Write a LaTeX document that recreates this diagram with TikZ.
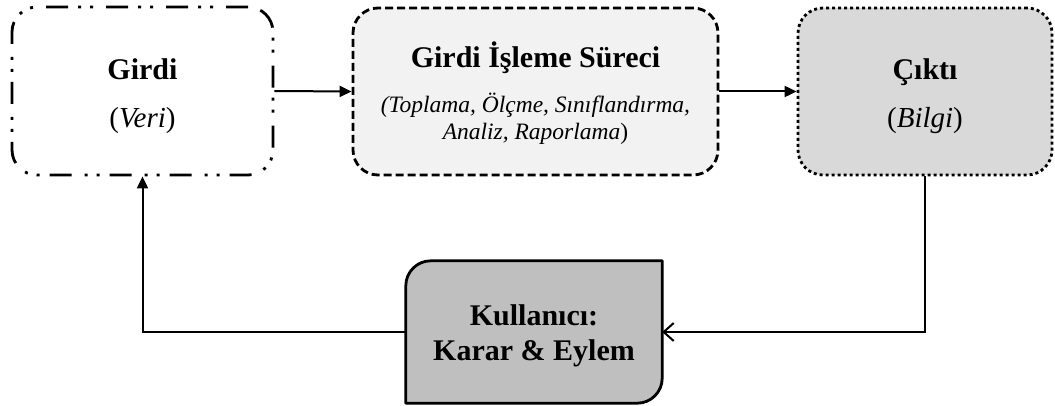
\documentclass[tikz,border=0pt]{standalone}
\usepackage{fontspec}
\setmainfont{Liberation Serif}
\usetikzlibrary{arrows.meta,backgrounds}
\definecolor{procfill}{HTML}{F2F2F2}
\definecolor{outfill}{HTML}{D9D9D9}
\definecolor{userfill}{HTML}{BFBFBF}
\tikzset{
  box/.style={draw, rounded corners=25pt, inner sep=0pt, align=center, line width=2.8pt},
  inbox/.style={box, fill=white, dash pattern=on 22pt off 13pt on 3pt off 9pt on 3pt off 10pt},
  procbox/.style={box, fill=procfill, dash pattern=on 8pt off 4pt},
  outbox/.style={box, fill=outfill, dash pattern=on 3pt off 3pt},
  userbox/.style={inner sep=0pt, align=center, font=\fontsize{30}{35}\selectfont\bfseries},
  link/.style={line width=2pt, -{Triangle[length=12pt,width=11pt]}},
  openlink/.style={line width=2pt, -{Straight Barb[length=10pt,width=18pt,line width=2pt]}},
  bigfont/.style={font=\fontsize{29}{48}\selectfont},
  titlefont/.style={font=\fontsize{30}{48}\selectfont\bfseries},
}
\newcommand{\boxtitle}[1]{{\fontsize{30}{48}\selectfont\bfseries #1}}
\begin{document}
\begin{tikzpicture}[x=1pt,y=1pt]
  \useasboundingbox (0,0) rectangle (1055,405);

  % input box
  \node[inbox, bigfont, minimum width=261pt, minimum height=168pt,
        text height=80pt, text depth=6pt] (girdi) at (142.5,314)
    {\boxtitle{Girdi}\\(\textit{Veri})};

  % processing box
  \node[procbox, minimum width=365pt, minimum height=167pt,
        font=\fontsize{23.5}{28}\selectfont,
        text height=102pt, text depth=5pt] (surec) at (535.5,313.5)
    {{\fontsize{30}{28}\selectfont\bfseries Girdi İşleme Süreci}\\[16pt]
     \textit{(Toplama, Ölçme, Sınıflandırma,}\\\textit{Analiz, Raporlama})};

  % output box
  \node[outbox, bigfont, minimum width=254pt, minimum height=167pt,
        text height=79pt, text depth=6pt] (cikti) at (925,313.5)
    {\boxtitle{Çıktı}\\(\textit{Bilgi})};

  % user box: rounded top-left and bottom-right corners only
  \node[userbox, minimum width=256pt, minimum height=142pt,
        text height=62pt, text depth=6pt] (user) at (534,73)
    {Kullanıcı:\\Karar \& Eylem};
  \begin{scope}[on background layer]
    \draw[fill=userfill, line width=2.8pt, line join=round]
      (user.south west) -- ([yshift=-25pt]user.north west)
      arc[start angle=180, end angle=90, radius=25pt]
      -- (user.north east) -- ([yshift=25pt]user.south east)
      arc[start angle=0, end angle=-90, radius=25pt] -- cycle;
  \end{scope}

  % connectors
  \draw[link] (girdi.east) -- (surec.west);
  \draw[link] (surec.east) -- (cikti.west);
  \draw[openlink] (cikti.south) |- (user.east);
  \draw[link] (user.west) -| (girdi.south);
\end{tikzpicture}
\end{document}
